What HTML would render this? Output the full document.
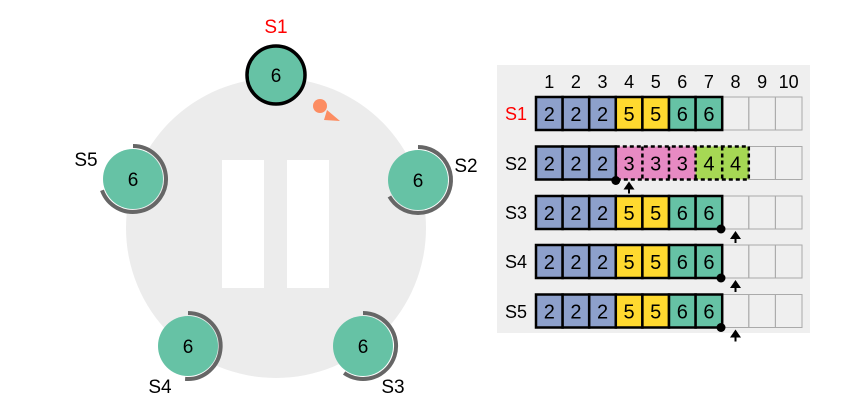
<!DOCTYPE html>
<html><head><meta charset="utf-8"><style>
html,body{margin:0;padding:0;background:#fff;}
svg{display:block;font-family:"Liberation Sans",Arial,sans-serif;}
</style></head><body>
<svg width="846" height="414" viewBox="0 0 846 414">
<circle cx="276" cy="228" r="150" fill="#ececec"/>
<rect x="222" y="160" width="42" height="128" fill="#fff"/>
<rect x="287" y="160" width="42" height="128" fill="#fff"/>
<g font-size="19" text-anchor="middle">
<circle cx="276" cy="75" r="29" fill="#66c2a5" stroke="#000" stroke-width="3.5"/>
<text x="276" y="82">6</text>
<text x="276" y="33" fill="#f00">S1</text>
<circle cx="320" cy="106" r="7" fill="#fc8d62"/>
<path d="M327 110 L340 121 L324 120 Z" fill="#fc8d62"/>

<path d="M418 147 A33 33 0 1 1 389.4 196.5" fill="none" stroke="#666" stroke-width="4"/>
<circle cx="418" cy="180" r="30" fill="#66c2a5"/>
<text x="418" y="187">6</text>
<text x="466" y="172">S2</text>

<path d="M133 146 A33 33 0 1 1 102 190.3" fill="none" stroke="#666" stroke-width="4"/>
<circle cx="133" cy="179" r="30" fill="#66c2a5"/>
<text x="133" y="186">6</text>
<text x="86" y="166">S5</text>

<path d="M188 313 A33 33 0 1 1 185.1 378.9" fill="none" stroke="#666" stroke-width="4"/>
<circle cx="188" cy="346" r="30" fill="#66c2a5"/>
<text x="188" y="353">6</text>
<text x="160" y="393">S4</text>

<path d="M363 313 A33 33 0 1 1 344.1 373" fill="none" stroke="#666" stroke-width="4"/>
<circle cx="363" cy="346" r="30" fill="#66c2a5"/>
<text x="363" y="353">6</text>
<text x="393" y="393">S3</text>
</g>

<rect x="497" y="65" width="313" height="268" fill="#efefef"/>
<g font-size="18" text-anchor="middle">
<text x="549.3" y="88">1</text><text x="575.9" y="88">2</text><text x="602.5" y="88">3</text><text x="629.1" y="88">4</text><text x="655.7" y="88">5</text><text x="682.3" y="88">6</text><text x="708.9" y="88">7</text><text x="735.5" y="88">8</text><text x="762.1" y="88">9</text><text x="788.7" y="88">10</text>
<text x="516" y="120" fill="#f00">S1</text>
<text x="516" y="170">S2</text>
<text x="516" y="219">S3</text>
<text x="516" y="268">S4</text>
<text x="516" y="318">S5</text>
</g>

<g font-size="20" text-anchor="middle">
<g transform="translate(0,97)">
<rect x="722.2" y="0" width="26.6" height="33" fill="none" stroke="#aaa"/><rect x="748.8" y="0" width="26.6" height="33" fill="none" stroke="#aaa"/><rect x="775.4" y="0" width="26.6" height="33" fill="none" stroke="#aaa"/>
<rect x="536" y="0" width="26.6" height="33" fill="#8da0cb" stroke="#000" stroke-width="2.5"/><rect x="562.6" y="0" width="26.6" height="33" fill="#8da0cb" stroke="#000" stroke-width="2.5"/><rect x="589.2" y="0" width="26.6" height="33" fill="#8da0cb" stroke="#000" stroke-width="2.5"/><rect x="615.8" y="0" width="26.6" height="33" fill="#ffd92f" stroke="#000" stroke-width="2.5"/><rect x="642.4" y="0" width="26.6" height="33" fill="#ffd92f" stroke="#000" stroke-width="2.5"/><rect x="669" y="0" width="26.6" height="33" fill="#66c2a5" stroke="#000" stroke-width="2.5"/><rect x="695.6" y="0" width="26.6" height="33" fill="#66c2a5" stroke="#000" stroke-width="2.5"/>
<text x="549.3" y="24">2</text><text x="575.9" y="24">2</text><text x="602.5" y="24">2</text><text x="629.1" y="24">5</text><text x="655.7" y="24">5</text><text x="682.3" y="24">6</text><text x="708.9" y="24">6</text>
</g>
<g transform="translate(0,146.5)">
<rect x="748.8" y="0" width="26.6" height="33" fill="none" stroke="#aaa"/><rect x="775.4" y="0" width="26.6" height="33" fill="none" stroke="#aaa"/>
<rect x="615.8" y="0" width="79.8" height="33" fill="#e78ac3"/>
<rect x="695.6" y="0" width="53.2" height="33" fill="#a6d854"/>
<rect x="615.8" y="0" width="133" height="33" fill="none" stroke="#000" stroke-width="2.5" stroke-dasharray="4,3"/>
<path d="M642.4 0V33M669 0V33M695.6 0V33M722.2 0V33" stroke="#000" stroke-width="2.5" stroke-dasharray="4,3"/>
<rect x="536" y="0" width="26.6" height="33" fill="#8da0cb" stroke="#000" stroke-width="2.5"/><rect x="562.6" y="0" width="26.6" height="33" fill="#8da0cb" stroke="#000" stroke-width="2.5"/><rect x="589.2" y="0" width="26.6" height="33" fill="#8da0cb" stroke="#000" stroke-width="2.5"/>
<text x="549.3" y="24">2</text><text x="575.9" y="24">2</text><text x="602.5" y="24">2</text><text x="629.1" y="24">3</text><text x="655.7" y="24">3</text><text x="682.3" y="24">3</text><text x="708.9" y="24">4</text><text x="735.5" y="24">4</text>
<circle cx="615.8" cy="34" r="4.5" fill="#000"/>
<path d="M623.5 43 L629 35 L634.5 43 Z M628 42 h2 v5 h-2 Z" fill="#000"/>
</g>
<g transform="translate(0,196)">
<rect x="722.2" y="0" width="26.6" height="33" fill="none" stroke="#aaa"/><rect x="748.8" y="0" width="26.6" height="33" fill="none" stroke="#aaa"/><rect x="775.4" y="0" width="26.6" height="33" fill="none" stroke="#aaa"/>
<rect x="536" y="0" width="26.6" height="33" fill="#8da0cb" stroke="#000" stroke-width="2.5"/><rect x="562.6" y="0" width="26.6" height="33" fill="#8da0cb" stroke="#000" stroke-width="2.5"/><rect x="589.2" y="0" width="26.6" height="33" fill="#8da0cb" stroke="#000" stroke-width="2.5"/><rect x="615.8" y="0" width="26.6" height="33" fill="#ffd92f" stroke="#000" stroke-width="2.5"/><rect x="642.4" y="0" width="26.6" height="33" fill="#ffd92f" stroke="#000" stroke-width="2.5"/><rect x="669" y="0" width="26.6" height="33" fill="#66c2a5" stroke="#000" stroke-width="2.5"/><rect x="695.6" y="0" width="26.6" height="33" fill="#66c2a5" stroke="#000" stroke-width="2.5"/>
<text x="549.3" y="24">2</text><text x="575.9" y="24">2</text><text x="602.5" y="24">2</text><text x="629.1" y="24">5</text><text x="655.7" y="24">5</text><text x="682.3" y="24">6</text><text x="708.9" y="24">6</text>
<circle cx="721" cy="33" r="4.5" fill="#000"/>
<path d="M730 43 L735.5 35 L741 43 Z M734.5 42 h2 v5 h-2 Z" fill="#000"/>
</g>
<g transform="translate(0,245)">
<rect x="722.2" y="0" width="26.6" height="33" fill="none" stroke="#aaa"/><rect x="748.8" y="0" width="26.6" height="33" fill="none" stroke="#aaa"/><rect x="775.4" y="0" width="26.6" height="33" fill="none" stroke="#aaa"/>
<rect x="536" y="0" width="26.6" height="33" fill="#8da0cb" stroke="#000" stroke-width="2.5"/><rect x="562.6" y="0" width="26.6" height="33" fill="#8da0cb" stroke="#000" stroke-width="2.5"/><rect x="589.2" y="0" width="26.6" height="33" fill="#8da0cb" stroke="#000" stroke-width="2.5"/><rect x="615.8" y="0" width="26.6" height="33" fill="#ffd92f" stroke="#000" stroke-width="2.5"/><rect x="642.4" y="0" width="26.6" height="33" fill="#ffd92f" stroke="#000" stroke-width="2.5"/><rect x="669" y="0" width="26.6" height="33" fill="#66c2a5" stroke="#000" stroke-width="2.5"/><rect x="695.6" y="0" width="26.6" height="33" fill="#66c2a5" stroke="#000" stroke-width="2.5"/>
<text x="549.3" y="24">2</text><text x="575.9" y="24">2</text><text x="602.5" y="24">2</text><text x="629.1" y="24">5</text><text x="655.7" y="24">5</text><text x="682.3" y="24">6</text><text x="708.9" y="24">6</text>
<circle cx="721" cy="33" r="4.5" fill="#000"/>
<path d="M730 43 L735.5 35 L741 43 Z M734.5 42 h2 v5 h-2 Z" fill="#000"/>
</g>
<g transform="translate(0,294.5)">
<rect x="722.2" y="0" width="26.6" height="33" fill="none" stroke="#aaa"/><rect x="748.8" y="0" width="26.6" height="33" fill="none" stroke="#aaa"/><rect x="775.4" y="0" width="26.6" height="33" fill="none" stroke="#aaa"/>
<rect x="536" y="0" width="26.6" height="33" fill="#8da0cb" stroke="#000" stroke-width="2.5"/><rect x="562.6" y="0" width="26.6" height="33" fill="#8da0cb" stroke="#000" stroke-width="2.5"/><rect x="589.2" y="0" width="26.6" height="33" fill="#8da0cb" stroke="#000" stroke-width="2.5"/><rect x="615.8" y="0" width="26.6" height="33" fill="#ffd92f" stroke="#000" stroke-width="2.5"/><rect x="642.4" y="0" width="26.6" height="33" fill="#ffd92f" stroke="#000" stroke-width="2.5"/><rect x="669" y="0" width="26.6" height="33" fill="#66c2a5" stroke="#000" stroke-width="2.5"/><rect x="695.6" y="0" width="26.6" height="33" fill="#66c2a5" stroke="#000" stroke-width="2.5"/>
<text x="549.3" y="24">2</text><text x="575.9" y="24">2</text><text x="602.5" y="24">2</text><text x="629.1" y="24">5</text><text x="655.7" y="24">5</text><text x="682.3" y="24">6</text><text x="708.9" y="24">6</text>
<circle cx="721" cy="33" r="4.5" fill="#000"/>
<path d="M730 43 L735.5 35 L741 43 Z M734.5 42 h2 v5 h-2 Z" fill="#000"/>
</g>
</g>
</svg>
</body></html>
